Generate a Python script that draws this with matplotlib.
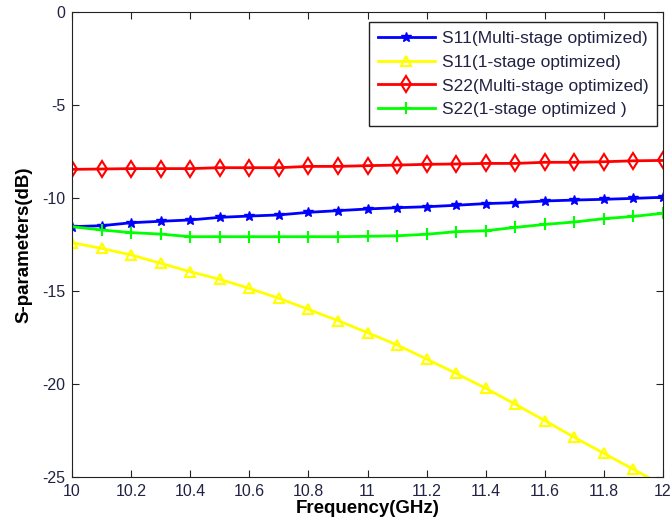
import numpy as np
import matplotlib.pyplot as plt

plt.rcParams['font.family'] = ['Liberation Sans', 'DejaVu Sans']
plt.rcParams['axes.unicode_minus'] = False

# Frequency points (GHz)
freq = [10.0, 10.1, 10.2, 10.3, 10.4, 10.5, 10.6, 10.7, 10.8, 10.9, 11.0,
        11.1, 11.2, 11.3, 11.4, 11.5, 11.6, 11.7, 11.8, 11.9, 12.0]

# S-parameters (dB)
s11_multi = [-11.54, -11.49, -11.33, -11.25, -11.18, -11.04, -10.97, -10.91, -10.77, -10.68, -10.59,
             -10.52, -10.47, -10.39, -10.30, -10.25, -10.16, -10.11, -10.07, -10.02, -9.96]
s11_single = [-12.40, -12.71, -13.06, -13.51, -13.96, -14.37, -14.86, -15.39, -15.99, -16.59, -17.24,
              -17.90, -18.66, -19.43, -20.23, -21.09, -21.97, -22.87, -23.73, -24.59, -25.45]
s22_multi = [-8.46, -8.44, -8.42, -8.42, -8.42, -8.37, -8.37, -8.37, -8.30, -8.30, -8.26,
             -8.23, -8.19, -8.17, -8.14, -8.14, -8.08, -8.08, -8.05, -8.00, -7.98]
s22_single = [-11.54, -11.72, -11.86, -11.94, -12.08, -12.08, -12.08, -12.08, -12.08, -12.08, -12.06,
              -12.03, -11.95, -11.81, -11.76, -11.58, -11.42, -11.29, -11.11, -10.99, -10.82]

xticks = [10, 10.2, 10.4, 10.6, 10.8, 11, 11.2, 11.4, 11.6, 11.8, 12]
xticklabels = ['10', '10.2', '10.4', '10.6', '10.8', '11', '11.2', '11.4', '11.6', '11.8', '12']
yticks = [-25, -20, -15, -10, -5, 0]

fig = plt.figure(figsize=(6.7, 5.32), dpi=100)
ax = fig.add_axes([0.1075, 0.1034, 0.8821, 0.874])

ax.plot(freq, s11_multi, color='#0000ff', marker='*', markersize=7, linewidth=2,
        label='S11(Multi-stage optimized)')
ax.plot(freq, s11_single, color='#ffff00', marker='^', markersize=7, markerfacecolor='none',
        markeredgewidth=1.5, linewidth=2, label='S11(1-stage optimized)')
ax.plot(freq, s22_multi, color='#ff0000', marker='d', markersize=8, markerfacecolor='none',
        markeredgewidth=1.5, linewidth=2, label='S22(Multi-stage optimized)')
ax.plot(freq, s22_single, color='#00ff00', marker='+', markersize=9, markeredgewidth=1.5,
        linewidth=2, label='S22(1-stage optimized )')

ax.set_xlim(10, 12)
ax.set_ylim(-25, 0)
ax.set_xticks(xticks)
ax.set_xticklabels(xticklabels)
ax.set_yticks(yticks)
ax.tick_params(direction='in', top=True, right=True, labelsize=11.5, length=5,
               color='#222222', labelcolor='#222244', pad=5)
for sp in ax.spines.values():
    sp.set_color('#222222')

ax.set_xlabel('Frequency(GHz)', fontsize=13.5, fontweight='bold', labelpad=1)
ax.set_ylabel('S-parameters(dB)', fontsize=13.5, fontweight='bold', labelpad=7)

leg = ax.legend(loc='upper right', bbox_to_anchor=(0.99, 0.9785), borderaxespad=0,
                fontsize=12.5, fancybox=False, framealpha=1, edgecolor='#222222',
                borderpad=0.5, handlelength=3.3, handletextpad=0.4, labelspacing=0.5)
leg.get_frame().set_linewidth(1)
for t in leg.get_texts():
    t.set_color('#222244')

fig.savefig('out.png', dpi=100)
